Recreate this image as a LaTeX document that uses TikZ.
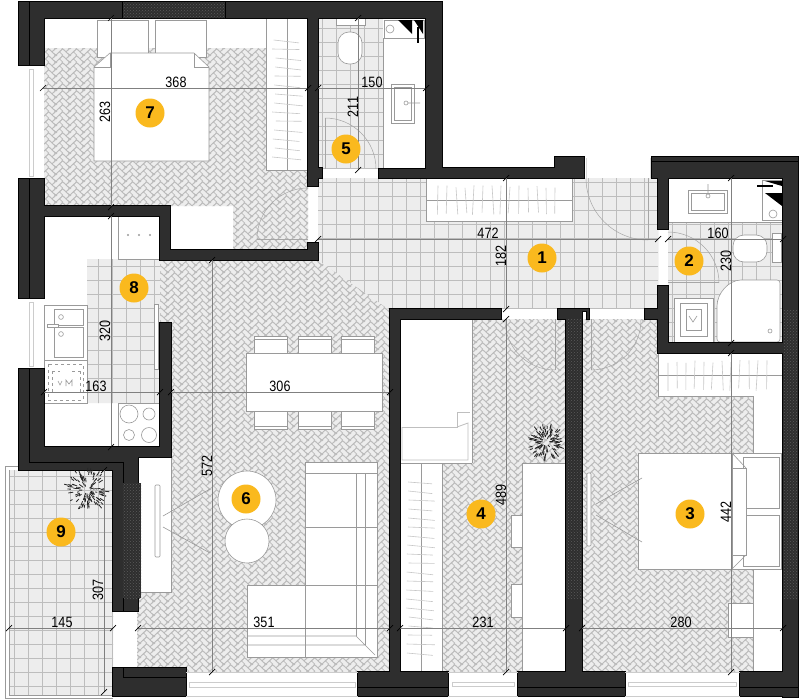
\documentclass[tikz,border=0pt]{standalone}
\usepackage{fontspec}
\setmainfont{Liberation Sans}
\newfontfamily\dimfont[FakeStretch=0.84]{Liberation Sans}
\usetikzlibrary{patterns}

\definecolor{wallgray}{HTML}{2E2E2E}
\definecolor{wallhatch}{HTML}{5A5A5A}
\definecolor{floorgray}{HTML}{EDEDED}
\definecolor{parquetline}{HTML}{BCBCBC}
\definecolor{tileline}{HTML}{BDBDBD}
\definecolor{furnline}{HTML}{9A9A9A}
\definecolor{badgeyellow}{HTML}{FAB91E}

% one cell of the herringbone floor
\newcommand{\parquetseg}[4]{\pgfpathmoveto{\pgfpoint{#1pt}{#2pt}}\pgfpathlineto{\pgfpoint{#3pt}{#4pt}}}
\newcommand{\parquetcell}{%
  \parquetseg{0}{0}{7.071}{7.071}%
  \parquetseg{-3.536}{3.536}{3.536}{10.607}%
  \parquetseg{0}{0}{-3.536}{3.536}%
  \parquetseg{3.536}{10.607}{10.607}{3.536}%
  \parquetseg{7.071}{14.142}{14.142}{7.071}%
  \parquetseg{3.536}{10.607}{7.071}{14.142}%
  \parquetseg{10.607}{3.536}{14.142}{7.071}%
  \pgfusepath{stroke}}
\pgfdeclarepatternformonly{parquet}{\pgfpointorigin}{\pgfpoint{14.142pt}{7.071pt}}{\pgfpoint{14.142pt}{7.071pt}}{%
  \pgfsetlinewidth{0.8pt}%
  \foreach \dx in {-14.142,0,14.142}{\foreach \dy in {-14.142,-7.071,0,7.071}{%
    \begin{pgfscope}\pgftransformshift{\pgfpoint{\dx pt}{\dy pt}}\parquetcell\end{pgfscope}}}}

\tikzset{
  furn/.style={draw=furnline, fill=white, line width=0.6pt},
  furnline/.style={draw=furnline, line width=0.6pt},
  hatchline/.style={draw=black!22, line width=0.6pt},
  dimline/.style={draw=black!50, line width=0.5pt},
  dimtick/.style={draw=black, line width=0.7pt},
  doorline/.style={draw=black!35, line width=0.5pt},
  dimlabel/.style={font=\dimfont\fontsize{15}{15}\selectfont, inner sep=0pt, text=black},
  dimlabelv/.style={dimlabel, rotate=90},
  badge/.style={circle, fill=badgeyellow, minimum size=29pt, inner sep=0pt, font=\bfseries\fontsize{17}{17}\selectfont},
  darkwall/.style={fill=wallgray, postaction={pattern=crosshatch dots, pattern color=wallhatch}},
}

% a measuring line with its two ticks
\newcommand{\dimrun}[2]{
  \draw[dimline] #1 -- #2;
  \draw[dimtick] #1 ++(-3,3) -- ++(6,-6);
  \draw[dimtick] #2 ++(-3,3) -- ++(6,-6);
}
% plant seen from above
\newcommand{\plantat}[3]{
  \foreach \k in {1,...,110}{
    \pgfmathsetmacro{\ang}{rnd*360}
    \pgfmathsetmacro{\rad}{3+rnd*(#3-7)}
    \pgfmathsetmacro{\len}{2+rnd*3}
    \draw[black!85, line width=0.8pt] (#1,#2) ++(\ang:\rad) -- ++(\ang:\len);
  }
}

\begin{document}
\begin{tikzpicture}[x=1pt,y=-1pt]
\useasboundingbox (0,0) rectangle (800,699);
\fill[white] (0,0) rectangle (800,699);
\pgfmathsetseed{12}

% herringbone rooms
\begin{scope}
\clip (44,48) -- (308,48) -- (308,250) -- (233,250) -- (233,206) -- (44,206) -- cycle
      (160,260) -- (318,260) -- (390,310) -- (390,672) -- (137,672) -- (137,590) -- (171,590) -- (171,323) -- (160,323) -- cycle
      (400,319) rectangle (566,672)
      (582,319) rectangle (658,400)
      (582,396) rectangle (753,672);
\fill[floorgray] (0,0) rectangle (800,699);
\fill[pattern=parquet, pattern color=parquetline] (0,0) rectangle (800,699);
\end{scope}

% tiled rooms
\begin{scope}
\clip (318,18) rectangle (383,169)
      (318,178) -- (658,178) -- (658,309) -- (390,309) -- (390,310) -- (318,260) -- cycle
      (668,222) rectangle (783,343)
      (87,259) rectangle (160,403)
      (9,470) rectangle (113,695);
\fill[floorgray] (0,0) rectangle (800,699);
\draw[tileline, line width=0.7pt] (0,0) grid[step=14pt] (800,699);
\end{scope}
\draw[furnline] (5,466) -- (113,466);
\draw[furnline] (5,466) -- (5,698) -- (113,698);
\draw[furnline] (9,470) -- (9,695) -- (113,695);

% kitchen
\draw[furn] (118,216) rectangle (160,259);
\foreach \xx in {128,139,150} \fill[black!40] (\xx,235) circle (1.2);
\draw[furn] (44,305) rectangle (87,360);
\draw[furn] (54,309) rectangle (83,325);
\draw[furn] (54,327) rectangle (83,357);
\draw[furn] (47,324) rectangle (58,327);
\draw[furnline] (61,317) circle (2.4);
\draw[furnline] (61,334) circle (2.4);
\draw[furn] (44,360) rectangle (87,403);
\draw[furnline, dashed] (48,364) rectangle (83,400);
\draw[furnline, dashed] (52,371) -- (52,392) (80,371) -- (80,392) (52,371) -- (60,371) (72,371) -- (80,371);
\draw[furnline] (58,381) -- (60,385) -- (62,381) (66,386) -- (66,380) -- (69,384) -- (72,380) -- (72,386);
\draw[furn] (118,403) rectangle (160,447);
\draw[furnline] (129,414) circle (9);
\draw[furnline] (149,414) circle (6);
\draw[furnline] (129,435) circle (5.5);
\draw[furnline] (149,435) circle (7.5);
\draw[furn] (154,304) rectangle (158,369);

% bedroom 7
\draw[furn] (97,20) rectangle (148,57);
\draw[furn] (155,20) rectangle (206,57);
\draw[furn] (94,67) -- (110,53) -- (194,53) -- (209,67) -- (209,161) -- (94,161) -- cycle;
\draw[furnline] (110,53) -- (110,67) -- (94,67) (194,53) -- (194,67) -- (209,67);
\draw[furn] (266,18) rectangle (308,170);
\draw[furnline] (287,18) -- (287,170);
\foreach \yy in {40,49,...,165} \draw[hatchline] ({272+rnd*4},\yy) -- ({299+rnd*4},{\yy+rnd*3});
\draw[doorline] (257,239) -- (308,239);
\draw[doorline] (308,188) arc (-90:-180:51);
\draw[white, line width=7pt] (314,186) -- (314,243);

% bath 5
\fill[white] (383,18) rectangle (426,169);
\draw[furnline] (383,38) -- (426,38);
\draw[furnline] (383,38) -- (383,169);
\draw[furn] (336,18) rectangle (365,25);
\draw[furn, rounded corners=11pt] (338,32) -- (338,64) -- (362,64) -- (362,32) -- cycle;
\draw[furn] (391,84) rectangle (414,123);
\draw[furnline] (394,87) rectangle (411,120);
\draw[furnline] (406,103) circle (2) (408,103) -- (420,103);
\draw[furn] (384,20) rectangle (424,38);
\draw[furnline] (390,29) circle (4);
\fill[black] (398,20) -- (412,20) -- (412,34) -- cycle;
\fill[black] (414,20) -- (423,20) -- (423,34) -- cycle;
\draw[black, line width=1.5pt] (418,27) -- (418,43);
\draw[doorline] (325,118) -- (325,169);
\draw[doorline] (325,118) arc (-90:0:51);
\fill[white] (324,169) rectangle (379,178);

% hall
\draw[furn] (426,178) rectangle (572,221);
\draw[furnline] (426,200) -- (572,200);
\foreach \xx in {438,447,...,555} \draw[hatchline] (\xx,{185+rnd*3}) -- ({\xx+rnd*4-2},{212+rnd*3});
\draw[doorline] (648,178) -- (648,240);
\draw[doorline] (586,178) arc (180:90:62);
\fill[white] (584,158) rectangle (652,178);
\draw[black!15] (586,158) -- (586,178) (650,158) -- (650,178);

% bath 2
\fill[white] (668,178) rectangle (783,222);
\draw[furnline] (668,222) -- (783,222);
\draw[furn] (688,190) rectangle (727,213);
\draw[furnline] (691,193) rectangle (724,210);
\draw[furnline] (708,196) circle (2) (708,184) -- (708,194);
\draw[furn] (762,180) rectangle (783,220);
\draw[furnline] (773,214) circle (4);
\fill[black] (765,181) -- (782,181) -- (782,186) -- cycle;
\fill[black] (765,193) -- (782,193) -- (782,206) -- cycle;
\draw[black, line width=1.5pt] (757,186) -- (773,186);
\draw[furn, rounded corners=11pt] (767,235) -- (733,235) -- (733,262) -- (767,262) -- cycle;
\draw[furn] (772,233) rectangle (781,262);
\draw[furn, rounded corners=3pt] (780,280) -- (744,280) to[out=180,in=90] (717,309) -- (717,342) -- (780,342) -- cycle;
\draw[furnline] (770,331) circle (2);
\draw[furn] (674,298) rectangle (713,342);
\draw[furnline] (680,303) rectangle (707,336);
\draw[furnline] (686,309) rectangle (701,330);
\draw[furnline] (689,316) -- (693,322) -- (697,316);
\draw[doorline] (668,282) -- (719,282);
\draw[doorline] (668,232) arc (-90:0:51);
\fill[white] (659,229) rectangle (667,286);

% living room
\foreach \xx in {254,298,341} {
  \draw[furn] (\xx,336) rectangle ++(33,18);
  \draw[furnline] (\xx,339) -- ++(33,0);
  \draw[furn] (\xx,411) rectangle ++(33,18);
  \draw[furnline] (\xx,426) -- ++(33,0);
}
\draw[furn] (246,353) rectangle (382,411);
\fill[white] (139,456) rectangle (171,592);
\draw[furnline] (139,456) -- (139,457) (171,457) -- (171,592) -- (141,592);
\draw[furn, rounded corners=1pt] (155,485) rectangle (160,557);
\draw[furnline] (163,516) -- (210,489) (163,527) -- (210,553);
\draw[furn] (247,500) circle (29);
\draw[furn] (247,541) circle (22);
\draw[furn] (305,462) rectangle (377,657);
\draw[furn] (247,585) rectangle (305,657);
\draw[furnline] (305,473) -- (377,473) (356,473) -- (356,636) (365,473) -- (365,645) (305,527) -- (377,527) (305,585) -- (377,585);
\draw[furnline] (247,636) -- (356,636) (247,645) -- (365,645) (356,636) -- (375,655);

% room 4
\fill[white] (400,319) rectangle (472,463);
\draw[furnline] (472,319) -- (472,463);
\draw[black!25, line width=0.8pt] (402,427) -- (457,427) -- (457,412) -- (470,412);
\draw[black!25, line width=0.8pt] (402,427) -- (402,460) -- (468,460) -- (468,423) -- (457,427);
\draw[furn] (400,463) rectangle (442,672);
\draw[furnline] (421,463) -- (421,672) (400,463) -- (472,463);
\foreach \yy in {482,491,...,660} \draw[hatchline] ({406+rnd*3},\yy) -- ({432+rnd*3},{\yy+rnd*3});
\draw[furn] (511,515) rectangle (522,547);
\draw[furn] (511,584) rectangle (522,617);
\draw[furn] (522,463) rectangle (566,672);
\draw[doorline] (555,319) -- (555,370);
\draw[doorline] (505,320) arc (180:90:50);
\fill[white] (501,309) rectangle (558,319);

% room 3
\draw[furn] (658,353) rectangle (783,396);
\draw[furnline] (658,375) -- (783,375);
\foreach \xx in {668,677,...,770} \draw[hatchline] (\xx,{360+rnd*3}) -- ({\xx+rnd*4-2},{388+rnd*3});
\fill[white] (753,396) rectangle (783,672);
\draw[furnline] (753,396) -- (753,453) (753,569) -- (753,672);
\draw[doorline] (591,319) -- (591,370);
\draw[doorline] (641,320) arc (0:90:50);
\fill[white] (589,309) rectangle (645,319);
\draw[furn] (638,453) rectangle (781,569);
\draw[furn] (743,457) rectangle (779,508);
\draw[furn] (743,515) rectangle (779,566);
\draw[furn] (638,453) rectangle (732,569);
\draw[furn] (732,468) -- (746,468) -- (746,555) -- (732,555) -- cycle;
\draw[furnline] (732,453) -- (746,468) (732,569) -- (746,555);
\draw[furn, rounded corners=1pt] (587,473) rectangle (591,546);
\draw[furnline] (596,504) -- (642,478) (596,515) -- (642,542);
\draw[furn] (728,603) rectangle (753,637);

% walls
\newcommand{\wallpath}{
  (19,2) rectangle (442,18)
  (19,2) rectangle (44,65)
  (19,179) rectangle (44,298)
  (19,369) rectangle (44,470)
  (19,447) rectangle (121,470)
  (113,447) rectangle (171,457)
  (113,455) rectangle (138,611)
  (160,323) rectangle (171,457)
  (44,206) rectangle (170,216)
  (160,206) rectangle (170,260)
  (160,250) rectangle (318,260)
  (308,243) rectangle (318,260)
  (308,18) rectangle (318,186)
  (318,168) rectangle (322,178)
  (379,169) rectangle (442,178)
  (426,2) rectangle (442,178)
  (426,168) rectangle (584,178)
  (555,157) rectangle (584,178)
  (652,157) rectangle (798,178)
  (783,157) rectangle (798,697)
  (658,178) rectangle (668,229)
  (658,286) rectangle (668,353)
  (658,343) rectangle (783,353)
  (645,309) rectangle (658,319)
  (390,309) rectangle (501,319)
  (390,309) rectangle (400,680)
  (558,309) rectangle (582,319)
  (566,309) rectangle (582,680)
  (582,309) rectangle (589,311)
  (587,309) rectangle (589,319)
  (113,668) rectangle (186,696)
  (358,672) rectangle (448,696)
  (518,672) rectangle (625,696)
  (740,672) rectangle (798,696)
}
\draw[black, line width=1.4pt] \wallpath;
\fill[wallgray] \wallpath;
\fill[darkwall] (122,2) rectangle (225,18);
\fill[darkwall] (123,483) rectangle (141,598);
\fill[darkwall] (566,319) rectangle (581,598);
\fill[darkwall] (784,310) rectangle (797,598);
\draw[black, line width=1pt] (29,2) -- (29,65) (29,179) -- (29,298) (29,369) -- (29,462) -- (123,462) -- (123,483) (123,598) -- (123,611);
\draw[black, line width=1pt] (122,2) -- (122,18) (225,2) -- (225,18) (123,668) -- (123,677) -- (186,677) (358,687) -- (448,687) (518,687) -- (625,687) (740,687) -- (798,687) (652,161) -- (798,161);

% windows
\draw[black!20, line width=0.8pt] (29,69) rectangle (33,176);
\draw[black!20, line width=0.8pt] (29,302) rectangle (33,366);
\draw[black!20, line width=0.8pt] (189,682) rectangle (355,687);
\draw[black!20, line width=0.8pt] (452,682) rectangle (514,686);
\draw[black!20, line width=0.8pt] (628,682) rectangle (736,686);
\draw[black!20] (186,672) -- (358,672) (186,696) -- (358,696) (448,672) -- (518,672) (448,696) -- (518,696) (625,672) -- (740,672) (625,696) -- (740,696);

% plants
\plantat{546}{442}{19}
\plantat{87}{490}{24}

% measures
\dimrun{(43,88)}{(308,88)}
\dimrun{(318,88)}{(426,88)}
\dimrun{(111,18)}{(111,207)}
\dimrun{(358,18)}{(358,170)}
\dimrun{(318,239)}{(658,239)}
\dimrun{(668,239)}{(783,239)}
\dimrun{(506,178)}{(506,309)}
\dimrun{(506,319)}{(506,672)}
\dimrun{(731,178)}{(731,343)}
\dimrun{(731,353)}{(731,672)}
\dimrun{(111,216)}{(111,447)}
\dimrun{(44,392)}{(160,392)}
\dimrun{(171,392)}{(390,392)}
\dimrun{(212,260)}{(212,672)}
\dimrun{(9,628)}{(113,628)}
\dimrun{(138,628)}{(390,628)}
\dimrun{(400,628)}{(566,628)}
\dimrun{(582,628)}{(783,628)}
\dimrun{(104,470)}{(104,692)}

\node[dimlabel] (d368) at (176,82) {368};
\node[dimlabel] (d150) at (372,82) {150};
\node[dimlabelv] (d263) at (105,112) {263};
\node[dimlabelv] (d211) at (353,107) {211};
\node[dimlabel] (d472) at (488,233) {472};
\node[dimlabelv] (d182) at (501,256) {182};
\node[dimlabel] (d160) at (718,233) {160};
\node[dimlabelv] (d230) at (726,261) {230};
\node[dimlabelv] (d320) at (105,331) {320};
\node[dimlabel] (d163) at (96,386) {163};
\node[dimlabel] (d306) at (280,386) {306};
\node[dimlabelv] (d572) at (207,466) {572};
\node[dimlabel] (d145) at (62,622) {145};
\node[dimlabel] (d351) at (264,622) {351};
\node[dimlabel] (d231) at (483,622) {231};
\node[dimlabel] (d280) at (681,622) {280};
\node[dimlabelv] (d307) at (98,590) {307};
\node[dimlabelv] (d489) at (501,495) {489};
\node[dimlabelv] (d442) at (726,512) {442};

\node[badge] (r1) at (542,258) {1};
\node[badge] (r2) at (689,261) {2};
\node[badge] (r3) at (690,514) {3};
\node[badge] (r4) at (481,514) {4};
\node[badge] (r5) at (346,149) {5};
\node[badge] (r6) at (246,499) {6};
\node[badge] (r7) at (150,113) {7};
\node[badge] (r8) at (134,288) {8};
\node[badge] (r9) at (61,532) {9};
\end{tikzpicture}
\end{document}
